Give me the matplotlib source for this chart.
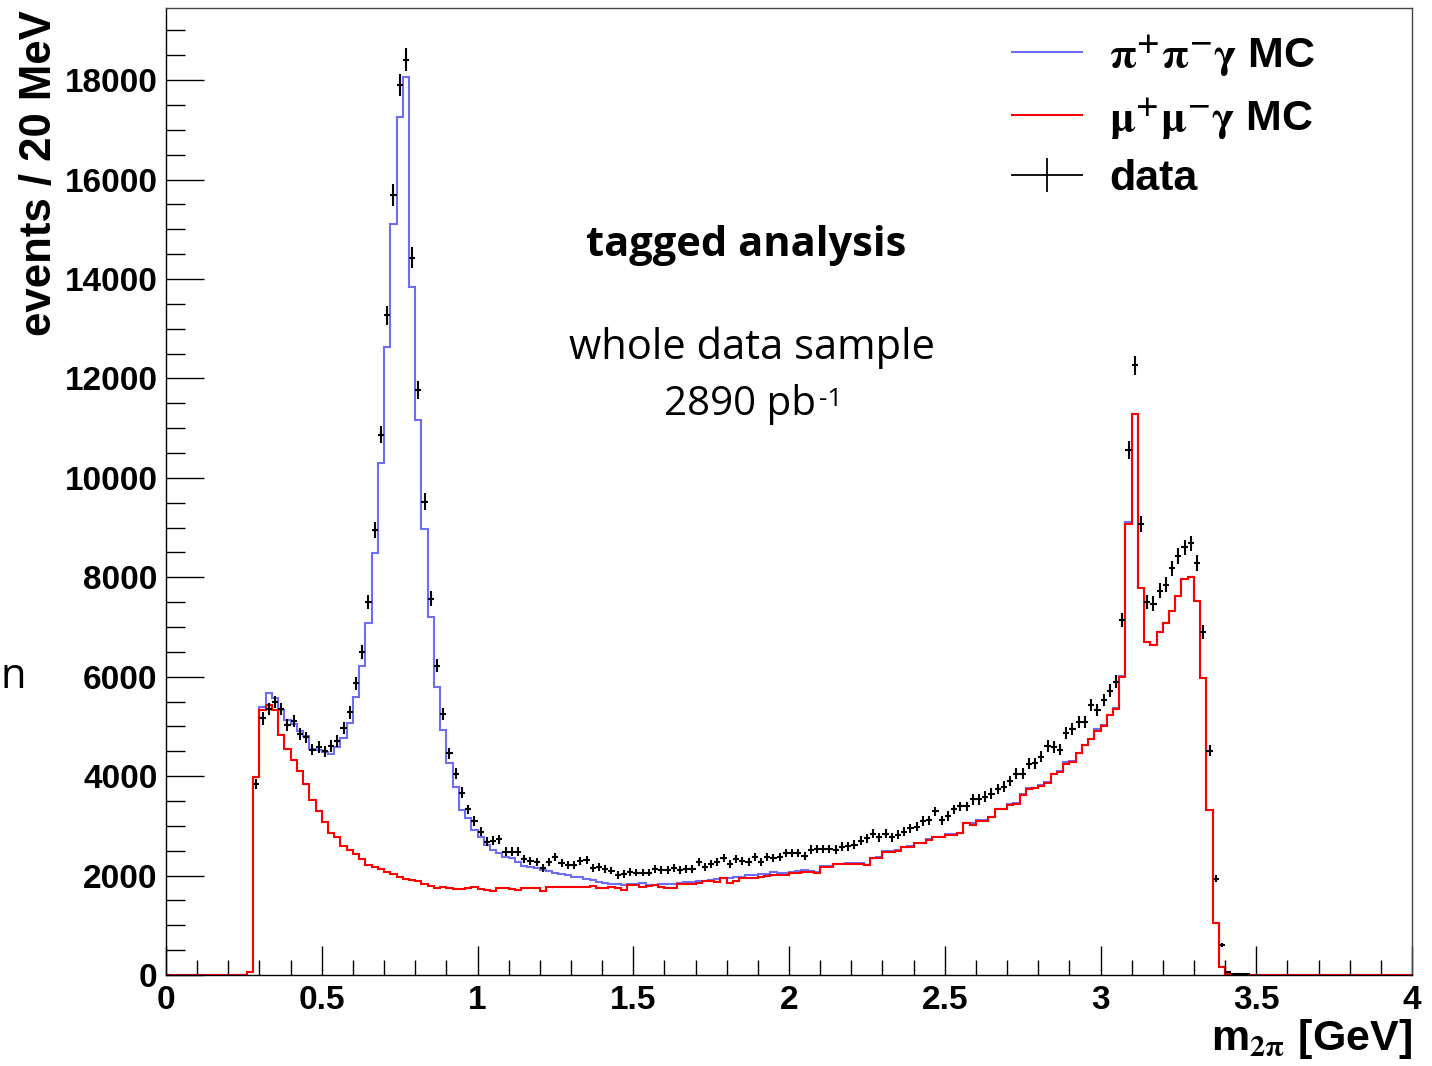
import numpy as np
import matplotlib
matplotlib.use("Agg")
import matplotlib.pyplot as plt
from matplotlib.lines import Line2D
from matplotlib.ticker import MultipleLocator

plt.rcParams['font.family'] = ['Liberation Sans', 'DejaVu Sans']
plt.rcParams['font.weight'] = 'bold'
plt.rcParams['mathtext.fontset'] = 'stix'

# 20 MeV bins, values in thousands of events
bin_w = 0.02
mc_start = 0.26      # first filled MC bin (left edge)
data_start = 0.28    # first data bin (left edge)

mumu_mc = [
    0.07,
    3.99, 5.33, 5.43, 5.33, 4.83, 4.54, 4.33, 4.11, 3.84, 3.51,
    3.29, 3.08, 2.86, 2.77, 2.60, 2.52, 2.43, 2.33, 2.21, 2.18,
    2.13, 2.08, 2.03, 1.98, 1.94, 1.91, 1.89, 1.84, 1.80, 1.74,
    1.76, 1.75, 1.73, 1.72, 1.74, 1.76, 1.72, 1.70, 1.68, 1.74,
    1.74, 1.73, 1.71, 1.74, 1.74, 1.75, 1.68, 1.76, 1.77, 1.77,
    1.78, 1.77, 1.78, 1.78, 1.80, 1.75, 1.75, 1.76, 1.75, 1.71,
    1.81, 1.82, 1.78, 1.79, 1.82, 1.78, 1.74, 1.75, 1.83, 1.83,
    1.84, 1.85, 1.90, 1.89, 1.87, 1.95, 1.86, 1.90, 1.95, 1.95,
    1.96, 1.97, 2.00, 2.01, 2.01, 2.01, 2.05, 2.05, 2.08, 2.08,
    2.05, 2.17, 2.17, 2.23, 2.23, 2.24, 2.24, 2.24, 2.21, 2.35,
    2.35, 2.48, 2.48, 2.50, 2.57, 2.57, 2.65, 2.65, 2.72, 2.77,
    2.77, 2.82, 2.82, 2.85, 3.05, 3.02, 3.10, 3.10, 3.17, 3.33,
    3.33, 3.42, 3.44, 3.62, 3.74, 3.76, 3.81, 3.87, 4.04, 4.09,
    4.25, 4.29, 4.46, 4.62, 4.74, 4.90, 5.01, 5.22, 5.36, 6.00,
    9.08, 11.29, 7.78, 6.70, 6.64, 6.89, 7.08, 7.33, 7.62, 7.97,
    8.00, 7.52, 5.97, 3.32, 1.05, 0.17, 0.02,
]

pipi_mc = [
    0.07,
    3.99, 5.40, 5.67, 5.57, 5.33, 5.12, 5.05, 4.90, 4.81, 4.55,
    4.53, 4.49, 4.45, 4.59, 4.76, 5.06, 5.60, 6.22, 7.08, 8.49,
    10.30, 12.64, 15.11, 17.25, 18.07, 13.84, 11.17, 8.97, 7.20, 5.80,
    4.93, 4.26, 3.79, 3.32, 3.15, 2.92, 2.77, 2.62, 2.52, 2.45,
    2.38, 2.35, 2.28, 2.19, 2.17, 2.15, 2.11, 2.09, 2.06, 2.04,
    2.01, 1.98, 1.97, 1.93, 1.91, 1.88, 1.86, 1.84, 1.83, 1.81,
    1.83, 1.83, 1.86, 1.81, 1.82, 1.84, 1.83, 1.84, 1.86, 1.88,
    1.88, 1.90, 1.90, 1.91, 1.93, 1.95, 1.95, 1.97, 1.98, 2.01,
    2.01, 2.03, 2.04, 2.07, 2.06, 2.06, 2.08, 2.10, 2.12, 2.10,
    2.08, 2.19, 2.19, 2.24, 2.24, 2.25, 2.25, 2.25, 2.22, 2.36,
    2.37, 2.50, 2.49, 2.51, 2.58, 2.60, 2.66, 2.66, 2.73, 2.78,
    2.78, 2.83, 2.83, 2.86, 3.06, 3.05, 3.12, 3.11, 3.18, 3.34,
    3.34, 3.43, 3.45, 3.64, 3.76, 3.77, 3.82, 3.88, 4.05, 4.10,
    4.28, 4.30, 4.47, 4.63, 4.75, 4.95, 5.02, 5.23, 5.37, 6.01,
    9.12, 11.29, 7.78, 6.70, 6.64, 6.89, 7.08, 7.33, 7.62, 7.97,
    8.00, 7.52, 5.97, 3.32, 1.05, 0.17, 0.02,
]

data = [
    3.84, 5.16, 5.35, 5.49, 5.35, 5.03, 5.11, 4.84, 4.78, 4.53,
    4.59, 4.50, 4.61, 4.71, 4.96, 5.28, 5.87, 6.50, 7.50, 8.95,
    10.87, 13.27, 15.69, 17.90, 18.41, 14.43, 11.76, 9.52, 7.57, 6.22,
    5.25, 4.46, 4.05, 3.67, 3.33, 3.10, 2.88, 2.68, 2.70, 2.73,
    2.48, 2.48, 2.48, 2.33, 2.30, 2.28, 2.16, 2.28, 2.38, 2.25,
    2.21, 2.22, 2.30, 2.31, 2.16, 2.18, 2.13, 2.10, 2.01, 2.03,
    2.07, 2.06, 2.06, 2.06, 2.13, 2.11, 2.11, 2.15, 2.11, 2.13,
    2.13, 2.28, 2.17, 2.23, 2.28, 2.35, 2.23, 2.33, 2.30, 2.28,
    2.38, 2.28, 2.37, 2.35, 2.38, 2.45, 2.46, 2.45, 2.39, 2.52,
    2.53, 2.53, 2.53, 2.52, 2.58, 2.59, 2.62, 2.70, 2.75, 2.84,
    2.77, 2.84, 2.77, 2.82, 2.88, 2.95, 2.98, 3.10, 3.11, 3.29,
    3.11, 3.20, 3.33, 3.39, 3.39, 3.53, 3.53, 3.59, 3.65, 3.74,
    3.79, 3.90, 4.05, 4.05, 4.25, 4.26, 4.39, 4.61, 4.59, 4.53,
    4.86, 4.94, 5.08, 5.08, 5.43, 5.33, 5.53, 5.72, 5.90, 7.14,
    10.56, 12.26, 9.08, 7.50, 7.47, 7.73, 7.85, 8.18, 8.43, 8.60,
    8.68, 8.29, 6.89, 4.51, 1.94, 0.60, 0.07, 0.03, 0.02, 0.02,
]

xticks = [0, 0.5, 1, 1.5, 2, 2.5, 3, 3.5, 4]
xtick_labels = ['0', '0.5', '1', '1.5', '2', '2.5', '3', '3.5', '4']
yticks = [0, 2000, 4000, 6000, 8000, 10000, 12000, 14000, 16000, 18000]
ytick_labels = [str(v) for v in yticks]

legend_labels = [r'$\mathrm{\pi^{+}\pi^{-}\gamma}$ MC',
                 r'$\mathrm{\mu^{+}\mu^{-}\gamma}$ MC',
                 'data']

blue_col = '#6e6ef5'

# full-range histograms (ROOT draws the empty bins on the axis too)
n_all = int(round(4.0 / bin_w))
i0 = int(round(mc_start / bin_w))
edges = np.arange(n_all + 1) * bin_w


def full_hist(vals):
    h = np.zeros(n_all)
    h[i0:i0 + len(vals)] = np.array(vals) * 1000
    return h


h_pipi = full_hist(pipi_mc)
h_mumu = full_hist(mumu_mc)

d = np.array(data) * 1000
xd = data_start + bin_w * np.arange(len(d)) + bin_w / 2

fig = plt.figure(figsize=(14.32, 10.66), dpi=100)
ax = fig.add_axes([166 / 1432, 1 - 975 / 1066, 1246 / 1432, 967 / 1066])

ax.stairs(h_pipi, edges, color=blue_col, lw=1.5)
ax.stairs(h_mumu, edges, color='red', lw=1.5)
# error bars drawn a bit larger than plain sqrt(N), as in the picture
ax.errorbar(xd, d, xerr=bin_w / 2, yerr=1.7 * np.sqrt(d), fmt='none',
            ecolor='black', elinewidth=1.5)

ax.set_xlim(0, 4)
ax.set_ylim(0, 19450)
ax.set_xticks(xticks)
ax.set_xticklabels(xtick_labels)
ax.set_yticks(yticks)
ax.set_yticklabels(ytick_labels)
ax.xaxis.set_minor_locator(MultipleLocator(0.1))
ax.yaxis.set_minor_locator(MultipleLocator(500))
ax.tick_params(axis='x', which='major', direction='in', length=21, width=1,
               labelsize=24, pad=7, top=False)
ax.tick_params(axis='x', which='minor', direction='in', length=11, width=1, top=False)
ax.tick_params(axis='y', which='major', direction='in', length=27, width=1,
               labelsize=24, pad=6, right=False)
ax.tick_params(axis='y', which='minor', direction='in', length=13.5, width=1, right=False)
for s in ax.spines.values():
    s.set_linewidth(1)
ax.spines['top'].set_color('#444444')
ax.spines['right'].set_color('#444444')

h_pi = Line2D([], [], color=blue_col, lw=1.5)
h_mu = Line2D([], [], color='red', lw=1.5)
h_da = Line2D([], [], color='black', lw=1.3, marker='|', markersize=24,
              markeredgewidth=1.3)
ax.legend([h_pi, h_mu, h_da], legend_labels, loc='upper left',
          bbox_to_anchor=(0.679, 0.974), frameon=False, numpoints=1,
          prop=dict(family='Liberation Sans', weight='bold', size=31),
          handlelength=1.62, handletextpad=0.64, labelspacing=0.42,
          borderpad=0, borderaxespad=0)

fig.text(40 / 1432, 1 - 10 / 1066, 'events / 20 MeV', rotation=90,
         ha='center', va='top', fontsize=31.5, fontweight='bold')
fig.text(1412 / 1432, 1 - 1050 / 1066, r'm$_{\mathrm{2\pi}}$ [GeV]',
         ha='right', va='baseline', fontsize=31, fontweight='bold')

fig.text(746 / 1432, 1 - 256 / 1066, 'tagged analysis', ha='center',
         va='baseline', family='Open Sans', fontweight='bold', fontsize=30)
fig.text(752 / 1432, 1 - 359 / 1066, 'whole data sample', ha='center',
         va='baseline', family='Open Sans', fontweight='normal', fontsize=30)
lumi = fig.text(740 / 1432, 1 - 415 / 1066, '2890 pb', ha='center',
                va='baseline', family='Open Sans', fontweight='normal', fontsize=29)
ax.annotate('-1', xy=(1.0, 1.0), xycoords=lumi, xytext=(2, -2),
            textcoords='offset points', ha='left', va='top',
            family='Open Sans', fontweight='normal', fontsize=19)
fig.text(1 / 1432, 1 - 688 / 1066, 'n', ha='left', va='baseline',
         family='Open Sans', fontweight='normal', fontsize=30)

fig.savefig('out.png', dpi=100)
